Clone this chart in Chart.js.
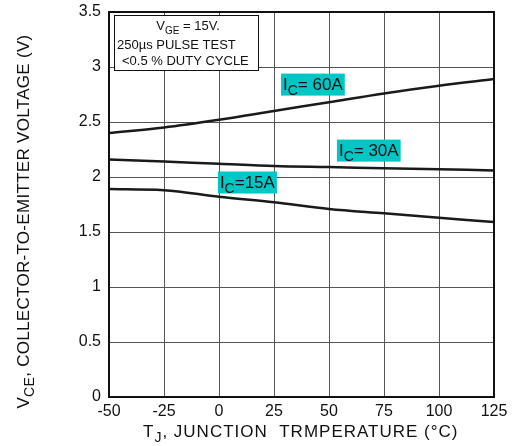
<!DOCTYPE html>
<html>
<head>
    <title>VCE vs TJ</title>
    <style>
        html, body { margin: 0; padding: 0; background: #fff; }
        #wrap { width: 513px; height: 446px; }
    </style>
    <script src="https://cdn.jsdelivr.net/npm/chart.js"></script>
</head>
<body>
    <div id="wrap"><canvas id="myChart" width="513" height="446"></canvas></div>
    <script>
        // datos
        var temps = [-50, -25, 0, 25, 50, 75, 100, 125];
        var vce60 = [2.40, 2.45, 2.52, 2.60, 2.68, 2.76, 2.83, 2.89];
        var vce30 = [2.16, 2.14, 2.12, 2.10, 2.09, 2.08, 2.07, 2.06];
        var vce15 = [1.89, 1.88, 1.82, 1.77, 1.71, 1.67, 1.63, 1.59];
        var xTicks = [-50, -25, 0, 25, 50, 75, 100, 125];
        var yTicks = [0, 0.5, 1, 1.5, 2, 2.5, 3, 3.5];

        // etiquetas de las curvas: [texto, temp izq, voltaje arriba]
        var curveLabels = [
            ['= 60A', 28.2, 2.94],
            ['= 30A', 53.6, 2.34],
            ['=15A', -0.5, 2.05]
        ];

        var FONT = '"Liberation Sans", Arial, sans-serif';

        function pts(vals) {
            return temps.map((t, i) => ({ x: t, y: vals[i] }));
        }

        function subText(ctx, x, y, main, sub, rest, size) {
            // texto con subindice, x = izquierda, y = linea base
            ctx.textAlign = 'left';
            ctx.textBaseline = 'alphabetic';
            ctx.font = size + 'px ' + FONT;
            ctx.fillText(main, x, y);
            x += ctx.measureText(main).width;
            ctx.font = Math.round(size * 0.8) + 'px ' + FONT;
            ctx.fillText(sub, x, y + size * 0.3);
            x += ctx.measureText(sub).width;
            ctx.font = size + 'px ' + FONT;
            ctx.fillText(rest, x, y);
            return x + ctx.measureText(rest).width;
        }

        function subWidth(ctx, main, sub, rest, size) {
            ctx.font = size + 'px ' + FONT;
            var w = ctx.measureText(main).width + ctx.measureText(rest).width;
            ctx.font = Math.round(size * 0.8) + 'px ' + FONT;
            return w + ctx.measureText(sub).width;
        }

        var decor = {
            id: 'decor',
            afterDraw(chart) {
                var ctx = chart.ctx;
                var a = chart.chartArea;
                var xs = chart.scales.x, ys = chart.scales.y;
                ctx.save();

                // marco
                ctx.strokeStyle = '#111';
                ctx.lineWidth = 2;
                ctx.strokeRect(a.left, a.top, a.right - a.left, a.bottom - a.top);

                // cuadro de condiciones
                var bx = a.left + 5, by = a.top + 3, bw = 144, bh = 55;
                ctx.fillStyle = '#fff';
                ctx.fillRect(bx, by, bw, bh);
                ctx.strokeStyle = '#111';
                ctx.lineWidth = 1;
                ctx.strokeRect(bx + 0.5, by + 0.5, bw, bh);
                ctx.fillStyle = '#111';
                var w1 = subWidth(ctx, 'V', 'GE', ' = 15V.', 13);
                subText(ctx, bx + (bw - w1) / 2 + 2, by + 15, 'V', 'GE', ' = 15V.', 13);
                ctx.font = '13px ' + FONT;
                ctx.textAlign = 'left';
                ctx.fillText('250\u00b5s PULSE TEST', bx + 3, by + 34);
                ctx.fillText('<0.5 % DUTY CYCLE', bx + 8, by + 50);

                // etiquetas de corriente
                curveLabels.forEach(function (l) {
                    var lx = xs.getPixelForValue(l[1]);
                    var ly = ys.getPixelForValue(l[2]);
                    var w = subWidth(ctx, 'I', 'C', l[0], 17);
                    ctx.fillStyle = '#00c6c6';
                    ctx.fillRect(lx, ly, w + 4, 22);
                    ctx.fillStyle = '#111';
                    subText(ctx, lx + 2, ly + 16, 'I', 'C', l[0], 17);
                });

                // titulo eje x
                ctx.fillStyle = '#111';
                ctx.letterSpacing = '1px';
                subText(ctx, 143, 437, 'T', 'J', ', JUNCTION  TRMPERATURE (\u00b0C)', 17);

                // titulo eje y
                ctx.letterSpacing = '0.3px';
                ctx.translate(29, (a.top + a.bottom) / 2 + 17);
                ctx.rotate(-Math.PI / 2);
                var yw = subWidth(ctx, 'V', 'CE', ', COLLECTOR-TO-EMITTER VOLTAGE (V)', 17);
                subText(ctx, -yw / 2, 0, 'V', 'CE', ', COLLECTOR-TO-EMITTER VOLTAGE (V)', 17);
                ctx.restore();
            }
        };

        var lineStyle = {
            borderColor: '#1a1a1a',
            borderWidth: 2.5,
            pointRadius: 0,
            fill: false,
            cubicInterpolationMode: 'monotone'
        };

        function noPad(s) {
            s.paddingTop = 0;
            s.paddingBottom = 0;
            s.paddingLeft = 0;
            s.paddingRight = 0;
        }

        var ctx = document.getElementById('myChart').getContext('2d');
        var myChart = new Chart(ctx, {
            type: 'line',
            data: {
                datasets: [
                    Object.assign({ label: 'IC = 60A', data: pts(vce60) }, lineStyle),
                    Object.assign({ label: 'IC = 30A', data: pts(vce30) }, lineStyle),
                    Object.assign({ label: 'IC = 15A', data: pts(vce15) }, lineStyle)
                ]
            },
            options: {
                responsive: false,
                animation: false,
                layout: { padding: { left: 0, top: 12, right: 19, bottom: 0 } },
                plugins: {
                    legend: { display: false },
                    tooltip: { enabled: false }
                },
                scales: {
                    x: {
                        type: 'linear',
                        min: -50,
                        max: 125,
                        afterBuildTicks: s => { s.ticks = xTicks.map(v => ({ value: v })); },
                        afterFit: s => { s.height = 49; noPad(s); },
                        grid: { color: '#555', lineWidth: 1, drawTicks: false },
                        border: { display: false },
                        ticks: {
                            color: '#111',
                            padding: 5,
                            font: { family: FONT, size: 16 },
                            callback: v => String(v)
                        }
                    },
                    y: {
                        min: 0,
                        max: 3.5,
                        afterBuildTicks: s => { s.ticks = yTicks.map(v => ({ value: v })); },
                        afterFit: s => { s.width = 109; noPad(s); },
                        grid: { color: '#555', lineWidth: 1, drawTicks: false },
                        border: { display: false },
                        ticks: {
                            color: '#111',
                            padding: 8,
                            font: { family: FONT, size: 16 },
                            callback: v => String(v)
                        }
                    }
                }
            },
            plugins: [decor]
        });
    </script>
</body>
</html>
